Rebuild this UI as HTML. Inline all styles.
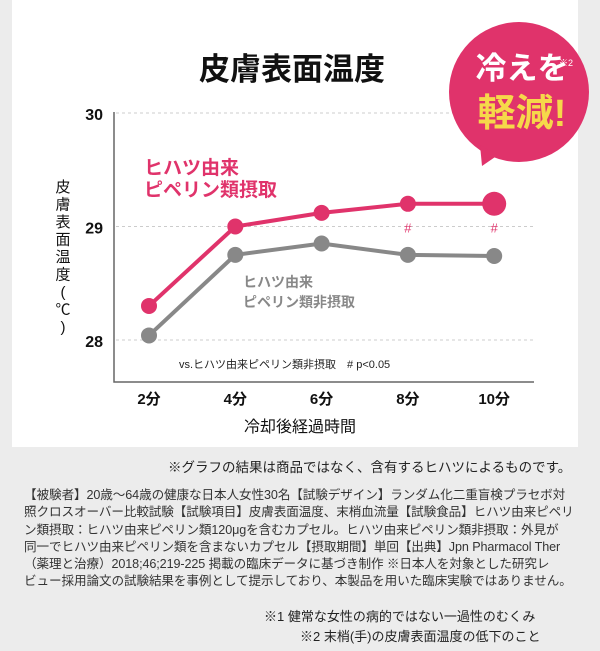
<!DOCTYPE html>
<html><head><meta charset="utf-8"><style>
body{margin:0;width:600px;height:651px;background:#ececec;overflow:hidden;font-family:"Liberation Sans","Noto Sans CJK JP",sans-serif;position:relative}
.card{position:absolute;left:12px;top:0;width:566px;height:447px;background:#fff}
.abs{position:absolute;white-space:nowrap}
</style></head><body>
<div class="card"></div>
<svg id="chart" class="abs" style="left:0;top:0" width="600" height="450"></svg>
<div class="abs" style="left:168px;top:456px;font-size:13.5px;color:#222">※グラフの結果は商品ではなく、含有するヒハツによるものです。</div>
<div class="abs" style="left:24px;top:487px;font-size:12.6px;line-height:17.3px;color:#333;letter-spacing:-0.1px">【被験者】20歳～64歳の健康な日本人女性30名【試験デザイン】ランダム化二重盲検プラセボ対<br>照クロスオーバー比較試験【試験項目】皮膚表面温度、末梢血流量【試験食品】ヒハツ由来ピペリ<br>ン類摂取：ヒハツ由来ピペリン類120μgを含むカプセル。ヒハツ由来ピペリン類非摂取：外見が<br>同一でヒハツ由来ピペリン類を含まないカプセル【摂取期間】単回【出典】Jpn Pharmacol Ther<br>（薬理と治療）2018;46;219-225 掲載の臨床データに基づき制作 ※日本人を対象とした研究レ<br>ビュー採用論文の試験結果を事例として提示しており、本製品を用いた臨床実験ではありません。</div>
<div class="abs" style="left:264px;top:606px;font-size:13px;color:#222">※1 健常な女性の病的ではない一過性のむくみ</div>
<div class="abs" style="left:300px;top:626px;font-size:13px;color:#222">※2 末梢(手)の皮膚表面温度の低下のこと</div>
<script>
const categories=["2分","4分","6分","8分","10分"];
const pinkValues=[28.3,29.0,29.12,29.2,29.2];
const grayValues=[28.04,28.75,28.85,28.75,28.74];
const yTicks=[28,29,30];
const sigFlags=[false,false,false,true,true];
const NS="http://www.w3.org/2000/svg";
const svg=document.getElementById("chart");
const x0=149,dx=86.3;
function xs(i){return x0+i*dx;}
function ys(v){return 340-(v-28)*113.5;}
function el(t,a,txt){const e=document.createElementNS(NS,t);for(const k in a)e.setAttribute(k,a[k]);if(txt!=null)e.textContent=txt;svg.appendChild(e);return e;}
let e;
e=el("text",{x:292,y:80,"font-size":31,"font-weight":"bold","text-anchor":"middle",fill:"#111"},"皮膚表面温度");


yTicks.forEach(t=>{
 e=el("line",{x1:116,x2:534,y1:ys(t),y2:ys(t),stroke:"#ccc","stroke-dasharray":"3,3"});
 
 
 e=el("text",{x:103,y:ys(t)+7,"font-size":16,"font-weight":"bold","text-anchor":"end",fill:"#111"},String(t));
 
 
});
e=el("polyline",{points:"114,112 114,382 534,382",fill:"none",stroke:"#666","stroke-width":1.5});


categories.forEach((c,i)=>{
 e=el("text",{x:xs(i),y:404,"font-size":15,"font-weight":"bold","text-anchor":"middle",fill:"#111"},c);
 
 
});
e=el("text",{x:300,y:432,"font-size":16,"text-anchor":"middle",fill:"#111"},"冷却後経過時間");


"皮膚表面温度(℃)".split("").forEach((ch,i)=>{
 e=el("text",{x:63,y:192+i*17.5,"font-size":15,"text-anchor":"middle",fill:"#111"},ch);
 
 
});
function series(vals,color,name){
 e=el("polyline",{points:vals.map((v,i)=>xs(i)+","+ys(v)).join(" "),fill:"none",stroke:color,"stroke-width":4});
 
 
 vals.forEach((v,i)=>{
  e=el("circle",{cx:xs(i),cy:ys(v),r:(name==="pink"&&i===vals.length-1)?12:8,fill:color});
  
  
 });
}
series(grayValues,"#888","gray");
series(pinkValues,"#e0336b","pink");
sigFlags.forEach((f,i)=>{if(f){
 e=el("text",{x:xs(i),y:ys(29)+6,"font-size":13,"text-anchor":"middle",fill:"#e0336b"},"#");
 
 
}});
e=el("text",{x:144,y:174,"font-size":19,"font-weight":"bold",fill:"#e0336b"},"ヒハツ由来");


e=el("text",{x:144,y:196,"font-size":19,"font-weight":"bold",fill:"#e0336b"},"ピペリン類摂取");


e=el("text",{x:243,y:287,"font-size":14,"font-weight":"bold",fill:"#888"},"ヒハツ由来");


e=el("text",{x:243,y:307,"font-size":14,"font-weight":"bold",fill:"#888"},"ピペリン類非摂取");


e=el("text",{x:179,y:368,"font-size":11,fill:"#222"},"vs.ヒハツ由来ピペリン類非摂取　# p<0.05");


e=el("circle",{cx:519,cy:92,r:70,fill:"#e0336b"});


e=el("polygon",{points:"480,145 498,155 482,166",fill:"#e0336b"});


e=el("text",{x:522,y:79,"font-size":31,"font-weight":"bold","text-anchor":"middle",fill:"#fff"},"冷えを");


e=el("text",{x:522,y:126,"font-size":38,"font-weight":"bold","text-anchor":"middle",fill:"#f6d84a"},"軽減!");


e=el("text",{x:566,y:66,"font-size":9,"text-anchor":"middle",fill:"#fff"},"※2");


</script>
</body></html>
